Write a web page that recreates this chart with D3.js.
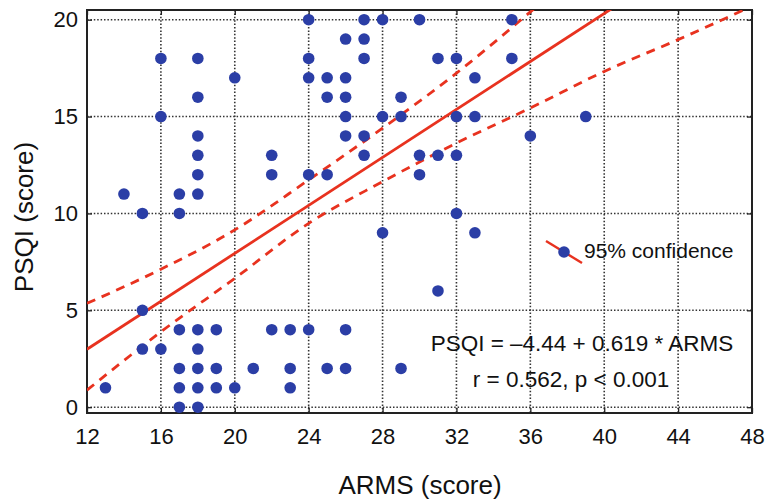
<!DOCTYPE html>
<html>
<head>
<meta charset="utf-8">
<script src="https://cdn.jsdelivr.net/npm/d3@7"></script>
<style>
  body { margin: 0; background: #fff; }
  text { font-family: "Liberation Sans", Arial, Helvetica, sans-serif; fill: #111; }
</style>
</head>
<body>
<svg id="chart" width="770" height="499"></svg>
<script>
// ARMS (x) and PSQI (y) scores
const armsScore = [16, 18, 20, 18, 16, 18, 18, 18, 14, 17, 18, 15, 17, 22, 22,
  24, 27, 28, 30, 26, 27, 24, 27, 31, 32, 24, 25, 26, 25, 26, 29, 26, 28, 29, 32,
  26, 27, 27, 30, 31, 32, 24, 25, 30, 32, 35, 35, 33, 33, 39, 36,
  15, 17, 18, 19, 22, 15, 16, 18, 17, 18, 19, 21, 13, 17, 18, 19, 20, 17, 18,
  28, 31, 23, 24, 26, 23, 25, 26, 29, 23, 33];
const psqiScore = [18, 18, 17, 16, 15, 14, 13, 12, 11, 11, 11, 10, 10, 13, 12,
  20, 20, 20, 20, 19, 19, 18, 18, 18, 18, 17, 17, 17, 16, 16, 16, 15, 15, 15, 15,
  14, 14, 13, 13, 13, 13, 12, 12, 12, 10, 20, 18, 17, 15, 15, 14,
  5, 4, 4, 4, 4, 3, 3, 3, 2, 2, 2, 2, 1, 1, 1, 1, 1, 0, 0,
  9, 6, 4, 4, 4, 2, 2, 2, 2, 1, 9];

// regression line PSQI = -4.44 + 0.619 * ARMS, ends of the drawn line
const fitX = [12, 48];
const fitY = [2.99, 25.27];

// 95% confidence band, read at the grid columns
const upperX = [12, 16, 20, 24, 28, 32, 36, 40];
const upperY = [5.36, 7.12, 9.15, 11.73, 14.4, 17.24, 20.4, 23.7];
const lowerX = [12, 16, 20, 24, 28, 32, 36, 40, 44, 48];
const lowerY = [0.88, 3.89, 6.65, 9.49, 11.64, 13.63, 15.44, 17.33, 18.97, 20.7];

const xTicks = [12, 16, 20, 24, 28, 32, 36, 40, 44, 48];
const yTicks = [0, 5, 10, 15, 20];

const plotLeft = 87, plotRight = 752, plotTop = 10, plotBottom = 413;
const red = "#e8321f";
const blue = "#2b3ea6";

const svg = d3.select("#chart");

const x = d3.scaleLinear().domain([12, 48]).range([plotLeft, plotRight]);
const y = d3.scaleLinear().domain([-0.3, 20.5]).range([plotBottom, plotTop]);

svg.append("defs").append("clipPath").attr("id", "plot-clip")
  .append("rect")
  .attr("x", plotLeft).attr("y", plotTop)
  .attr("width", plotRight - plotLeft).attr("height", plotBottom - plotTop);

// dotted grid
let grid = svg.append("g").attr("class", "grid")
  .attr("stroke", "#333").attr("stroke-width", 1.6)
  .attr("stroke-dasharray", "1.5,1.9");
grid.selectAll(".gx").data(xTicks.slice(1, -1)).enter().append("line")
  .attr("x1", d => x(d)).attr("x2", d => x(d))
  .attr("y1", plotTop).attr("y2", plotBottom);
grid.selectAll(".gy").data(yTicks).enter().append("line")
  .attr("x1", plotLeft).attr("x2", plotRight)
  .attr("y1", d => y(d)).attr("y2", d => y(d));

// axes, ticks pointing inward
let xAxis = d3.axisBottom(x).tickValues(xTicks).tickSize(-5).tickPadding(15);
let yAxis = d3.axisLeft(y).tickValues(yTicks).tickSize(-5).tickPadding(9);

let gx = svg.append("g").attr("transform", `translate(0,${plotBottom})`).call(xAxis);
let gy = svg.append("g").attr("transform", `translate(${plotLeft},0)`).call(yAxis);
svg.append("g").attr("transform", `translate(0,${plotTop})`)
  .call(d3.axisTop(x).tickValues(xTicks).tickSize(-5).tickFormat(""));
svg.append("g").attr("transform", `translate(${plotRight},0)`)
  .call(d3.axisRight(y).tickValues(yTicks).tickSize(-5).tickFormat(""));

svg.selectAll(".domain").remove();
svg.selectAll(".tick line").attr("stroke", "#222").attr("stroke-width", 1.3);
gx.selectAll("text").style("font-size", "22px").attr("fill", "#111");
gy.selectAll("text").style("font-size", "22px").attr("fill", "#111");

// frame
svg.append("rect")
  .attr("x", plotLeft).attr("y", plotTop)
  .attr("width", plotRight - plotLeft).attr("height", plotBottom - plotTop)
  .attr("fill", "none").attr("stroke", "#222").attr("stroke-width", 2);

let plot = svg.append("g").attr("clip-path", "url(#plot-clip)");

let bandLine = d3.line().curve(d3.curveMonotoneX)
  .x(d => x(d[0])).y(d => y(d[1]));

plot.append("path")
  .datum(upperX.map((v, i) => [v, upperY[i]]))
  .attr("d", bandLine)
  .attr("fill", "none").attr("stroke", red).attr("stroke-width", 2.8)
  .attr("stroke-dasharray", "9,7");
plot.append("path")
  .datum(lowerX.map((v, i) => [v, lowerY[i]]))
  .attr("d", bandLine)
  .attr("fill", "none").attr("stroke", red).attr("stroke-width", 2.8)
  .attr("stroke-dasharray", "9,7");

plot.append("path")
  .datum(fitX.map((v, i) => [v, fitY[i]]))
  .attr("d", d3.line().x(d => x(d[0])).y(d => y(d[1])))
  .attr("fill", "none").attr("stroke", red).attr("stroke-width", 2.8);

// points
plot.selectAll("circle")
  .data(armsScore.map((v, i) => [v, psqiScore[i]]))
  .enter()
  .append("circle")
  .attr("cx", d => x(d[0]))
  .attr("cy", d => y(d[1]))
  .attr("r", 5.8)
  .attr("fill", blue);

// legend
svg.append("line")
  .attr("x1", 546).attr("y1", 241).attr("x2", 582).attr("y2", 263)
  .attr("stroke", red).attr("stroke-width", 2.4);
svg.append("circle").attr("cx", 564).attr("cy", 252).attr("r", 5.8).attr("fill", blue);
svg.append("text").attr("x", 584).attr("y", 258)
  .style("font-size", "21px").text("95% confidence");

// fit annotation
svg.append("text").attr("x", 582).attr("y", 351).attr("text-anchor", "middle")
  .style("font-size", "22.5px").text("PSQI = \u20134.44 + 0.619 * ARMS");
svg.append("text").attr("x", 571).attr("y", 387).attr("text-anchor", "middle")
  .style("font-size", "22.5px").text("r = 0.562, p < 0.001");

// axis titles
svg.append("text").attr("x", 420).attr("y", 494).attr("text-anchor", "middle")
  .style("font-size", "26px").text("ARMS (score)");
svg.append("text")
  .attr("transform", "translate(33,217) rotate(-90)")
  .attr("text-anchor", "middle")
  .style("font-size", "26px").text("PSQI (score)");
</script>
</body>
</html>
